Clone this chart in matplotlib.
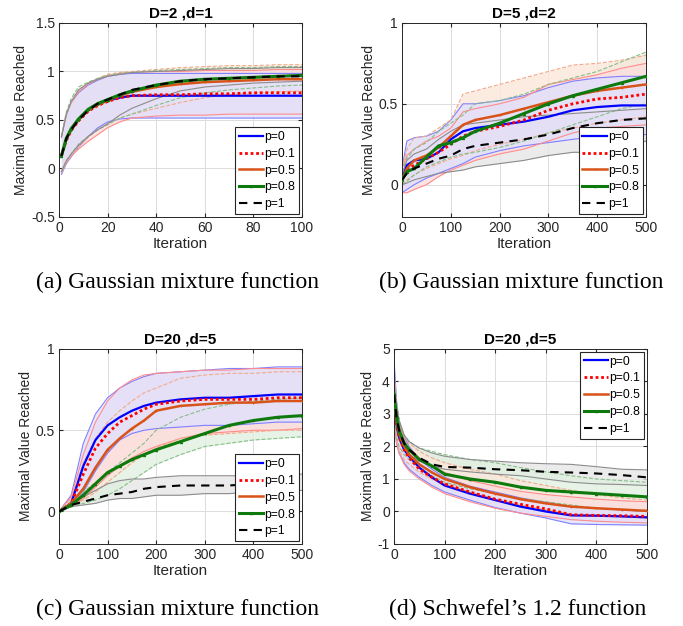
import matplotlib
matplotlib.use('Agg')
import matplotlib.pyplot as plt
from matplotlib.ticker import FormatStrFormatter

plt.rcParams['font.family'] = ['Liberation Sans', 'DejaVu Sans']

labels = ['p=0', 'p=0.1', 'p=0.5', 'p=0.8', 'p=1']

# ---- (a) D=2, d=1 ----
A_X = [1, 3, 5, 8, 12, 16, 20, 25, 30, 40, 50, 60, 70, 80, 90, 100]
A_P0 = [0.13, 0.30, 0.40, 0.50, 0.60, 0.66, 0.70, 0.73, 0.75, 0.75, 0.75, 0.75, 0.75, 0.75, 0.75, 0.75]
A_P01 = [0.13, 0.29, 0.39, 0.49, 0.59, 0.65, 0.69, 0.73, 0.75, 0.76, 0.76, 0.77, 0.77, 0.78, 0.78, 0.78]
A_P05 = [0.13, 0.30, 0.40, 0.50, 0.60, 0.66, 0.70, 0.75, 0.79, 0.84, 0.87, 0.89, 0.90, 0.91, 0.92, 0.92]
A_P08 = [0.13, 0.31, 0.41, 0.51, 0.61, 0.67, 0.71, 0.76, 0.80, 0.86, 0.90, 0.92, 0.93, 0.94, 0.95, 0.96]
A_P1 = [0.13, 0.31, 0.40, 0.50, 0.60, 0.67, 0.71, 0.76, 0.81, 0.86, 0.90, 0.92, 0.93, 0.94, 0.95, 0.95]
A_P0_LO = [-0.06, 0.05, 0.12, 0.22, 0.33, 0.42, 0.48, 0.51, 0.52, 0.52, 0.52, 0.52, 0.52, 0.52, 0.52, 0.52]
A_P0_HI = [0.33, 0.55, 0.68, 0.78, 0.86, 0.91, 0.95, 0.97, 0.98, 0.98, 0.98, 0.98, 0.98, 0.98, 0.98, 0.98]
A_P01_LO = [-0.04, 0.06, 0.13, 0.20, 0.28, 0.35, 0.42, 0.48, 0.52, 0.54, 0.55, 0.55, 0.56, 0.56, 0.56, 0.56]
A_P01_HI = [0.33, 0.56, 0.68, 0.79, 0.87, 0.92, 0.96, 0.98, 0.99, 1.00, 1.00, 1.01, 1.01, 1.01, 1.02, 1.02]
A_P05_LO = [-0.04, 0.06, 0.13, 0.22, 0.32, 0.40, 0.46, 0.52, 0.56, 0.62, 0.68, 0.73, 0.76, 0.78, 0.79, 0.80]
A_P05_HI = [0.33, 0.56, 0.69, 0.80, 0.88, 0.93, 0.97, 0.99, 1.00, 1.02, 1.04, 1.05, 1.06, 1.06, 1.07, 1.07]
A_P08_LO = [-0.03, 0.08, 0.15, 0.25, 0.33, 0.40, 0.45, 0.52, 0.56, 0.65, 0.73, 0.78, 0.81, 0.83, 0.85, 0.86]
A_P08_HI = [0.33, 0.58, 0.72, 0.84, 0.89, 0.93, 0.96, 0.98, 0.99, 1.01, 1.02, 1.03, 1.04, 1.04, 1.05, 1.05]
A_P1_LO = [-0.03, 0.08, 0.15, 0.24, 0.33, 0.40, 0.46, 0.55, 0.62, 0.72, 0.80, 0.84, 0.86, 0.88, 0.89, 0.90]
A_P1_HI = [0.32, 0.56, 0.69, 0.81, 0.88, 0.92, 0.95, 0.97, 0.99, 1.00, 1.01, 1.02, 1.03, 1.03, 1.04, 1.04]

# ---- (b) D=5, d=2 ----
B_X = [0, 10, 25, 50, 75, 100, 125, 150, 200, 250, 300, 350, 400, 450, 500]
B_P0 = [0.03, 0.12, 0.15, 0.16, 0.20, 0.28, 0.33, 0.35, 0.37, 0.39, 0.42, 0.46, 0.48, 0.49, 0.49]
B_P01 = [0.03, 0.09, 0.12, 0.16, 0.20, 0.25, 0.30, 0.33, 0.36, 0.40, 0.46, 0.50, 0.53, 0.54, 0.56]
B_P05 = [0.03, 0.10, 0.15, 0.18, 0.23, 0.30, 0.37, 0.40, 0.43, 0.47, 0.51, 0.55, 0.58, 0.60, 0.62]
B_P08 = [0.03, 0.08, 0.10, 0.17, 0.24, 0.26, 0.29, 0.33, 0.38, 0.44, 0.50, 0.55, 0.59, 0.63, 0.67]
B_P1 = [0.03, 0.07, 0.10, 0.13, 0.16, 0.18, 0.22, 0.24, 0.26, 0.28, 0.31, 0.35, 0.38, 0.40, 0.41]
B_P0_LO = [-0.05, -0.03, 0.00, 0.04, 0.07, 0.10, 0.13, 0.17, 0.21, 0.24, 0.26, 0.28, 0.30, 0.30, 0.31]
B_P0_HI = [0.10, 0.27, 0.29, 0.30, 0.33, 0.40, 0.50, 0.50, 0.52, 0.55, 0.60, 0.64, 0.66, 0.67, 0.67]
B_P01_LO = [-0.05, -0.05, -0.03, 0.00, 0.05, 0.09, 0.12, 0.15, 0.19, 0.22, 0.27, 0.32, 0.35, 0.36, 0.37]
B_P01_HI = [0.10, 0.18, 0.22, 0.27, 0.30, 0.35, 0.45, 0.47, 0.50, 0.54, 0.62, 0.65, 0.68, 0.72, 0.75]
B_P05_LO = [0.00, 0.03, 0.06, 0.10, 0.13, 0.16, 0.18, 0.21, 0.25, 0.28, 0.32, 0.35, 0.38, 0.40, 0.42]
B_P05_HI = [0.10, 0.22, 0.29, 0.30, 0.35, 0.40, 0.56, 0.58, 0.62, 0.66, 0.70, 0.74, 0.75, 0.77, 0.80]
B_P08_LO = [0.00, 0.02, 0.06, 0.11, 0.14, 0.17, 0.19, 0.20, 0.23, 0.27, 0.32, 0.37, 0.42, 0.47, 0.50]
B_P08_HI = [0.08, 0.16, 0.22, 0.26, 0.33, 0.38, 0.43, 0.50, 0.52, 0.56, 0.62, 0.66, 0.70, 0.76, 0.82]
B_P1_LO = [0.00, 0.01, 0.03, 0.05, 0.07, 0.08, 0.09, 0.11, 0.13, 0.15, 0.18, 0.20, 0.20, 0.22, 0.27]
B_P1_HI = [0.06, 0.15, 0.19, 0.22, 0.28, 0.33, 0.37, 0.38, 0.40, 0.42, 0.43, 0.44, 0.45, 0.46, 0.47]

# ---- (c) D=20, d=5 gaussian ----
C_X = [0, 25, 50, 75, 100, 125, 150, 175, 200, 250, 300, 350, 400, 450, 500]
C_P0 = [0.00, 0.05, 0.28, 0.44, 0.53, 0.58, 0.62, 0.65, 0.67, 0.69, 0.70, 0.70, 0.71, 0.72, 0.72]
C_P01 = [0.00, 0.05, 0.23, 0.39, 0.48, 0.55, 0.59, 0.63, 0.66, 0.68, 0.69, 0.69, 0.69, 0.70, 0.70]
C_P05 = [0.00, 0.05, 0.14, 0.27, 0.38, 0.45, 0.51, 0.56, 0.62, 0.65, 0.66, 0.67, 0.67, 0.68, 0.68]
C_P08 = [0.00, 0.04, 0.10, 0.17, 0.24, 0.28, 0.32, 0.35, 0.38, 0.43, 0.48, 0.53, 0.56, 0.58, 0.59]
C_P1 = [0.00, 0.04, 0.06, 0.08, 0.10, 0.11, 0.12, 0.14, 0.15, 0.16, 0.16, 0.16, 0.17, 0.17, 0.17]
C_P0_LO = [0.00, 0.03, 0.12, 0.25, 0.36, 0.44, 0.48, 0.50, 0.51, 0.52, 0.53, 0.53, 0.54, 0.55, 0.55]
C_P0_HI = [0.00, 0.10, 0.42, 0.60, 0.70, 0.76, 0.80, 0.83, 0.85, 0.86, 0.87, 0.88, 0.88, 0.89, 0.89]
C_P01_LO = [0.00, 0.03, 0.08, 0.15, 0.22, 0.28, 0.33, 0.37, 0.40, 0.45, 0.48, 0.49, 0.50, 0.50, 0.51]
C_P01_HI = [0.00, 0.09, 0.35, 0.55, 0.68, 0.76, 0.81, 0.84, 0.85, 0.86, 0.87, 0.87, 0.88, 0.88, 0.88]
C_P05_LO = [0.00, 0.03, 0.07, 0.12, 0.18, 0.24, 0.30, 0.35, 0.39, 0.45, 0.47, 0.48, 0.49, 0.50, 0.50]
C_P05_HI = [0.00, 0.08, 0.30, 0.45, 0.55, 0.62, 0.68, 0.73, 0.76, 0.82, 0.84, 0.85, 0.85, 0.86, 0.86]
C_P08_LO = [0.00, 0.03, 0.05, 0.07, 0.10, 0.14, 0.19, 0.24, 0.29, 0.35, 0.40, 0.42, 0.44, 0.45, 0.46]
C_P08_HI = [0.00, 0.06, 0.12, 0.18, 0.24, 0.30, 0.36, 0.42, 0.50, 0.58, 0.63, 0.66, 0.68, 0.69, 0.70]
C_P1_LO = [0.00, 0.03, 0.04, 0.05, 0.07, 0.08, 0.08, 0.09, 0.10, 0.10, 0.11, 0.11, 0.12, 0.12, 0.13]
C_P1_HI = [0.00, 0.05, 0.09, 0.13, 0.17, 0.19, 0.20, 0.20, 0.21, 0.22, 0.22, 0.22, 0.22, 0.23, 0.23]

# ---- (d) D=20, d=5 schwefel ----
D_X = [0, 5, 10, 20, 30, 50, 75, 100, 150, 200, 250, 300, 350, 400, 450, 500]
D_P0 = [3.6, 2.7, 2.3, 1.9, 1.7, 1.35, 1.05, 0.80, 0.55, 0.35, 0.15, 0.00, -0.12, -0.13, -0.15, -0.18]
D_P01 = [3.6, 2.7, 2.3, 1.9, 1.65, 1.30, 1.05, 0.85, 0.60, 0.38, 0.22, 0.08, -0.10, -0.12, -0.13, -0.15]
D_P05 = [3.6, 2.8, 2.4, 2.0, 1.75, 1.45, 1.20, 1.00, 0.75, 0.55, 0.38, 0.25, 0.15, 0.10, 0.06, 0.02]
D_P08 = [3.6, 2.9, 2.5, 2.1, 1.9, 1.60, 1.40, 1.15, 1.00, 0.90, 0.75, 0.65, 0.60, 0.55, 0.50, 0.45]
D_P1 = [3.6, 2.9, 2.5, 2.1, 1.9, 1.65, 1.45, 1.37, 1.35, 1.30, 1.27, 1.22, 1.20, 1.17, 1.12, 1.05]
D_P0_LO = [2.8, 2.1, 1.8, 1.5, 1.3, 1.05, 0.80, 0.60, 0.35, 0.12, -0.05, -0.20, -0.38, -0.40, -0.41, -0.42]
D_P0_HI = [4.7, 3.4, 2.8, 2.3, 2.0, 1.60, 1.30, 1.05, 0.78, 0.60, 0.42, 0.28, 0.15, 0.10, 0.05, 0.00]
D_P01_LO = [2.8, 2.1, 1.8, 1.45, 1.25, 1.00, 0.75, 0.55, 0.30, 0.10, -0.05, -0.15, -0.25, -0.30, -0.33, -0.35]
D_P01_HI = [4.3, 3.2, 2.7, 2.2, 1.95, 1.65, 1.40, 1.20, 0.95, 0.78, 0.62, 0.52, 0.45, 0.38, 0.33, 0.30]
D_P05_LO = [2.9, 2.2, 1.9, 1.6, 1.45, 1.20, 1.00, 0.85, 0.60, 0.40, 0.20, 0.05, -0.08, -0.13, -0.17, -0.20]
D_P05_HI = [4.3, 3.3, 2.8, 2.3, 2.1, 1.85, 1.65, 1.50, 1.30, 1.15, 0.95, 0.80, 0.65, 0.52, 0.42, 0.35]
D_P08_LO = [3.0, 2.3, 2.0, 1.75, 1.6, 1.35, 1.10, 0.90, 0.70, 0.55, 0.40, 0.30, 0.20, 0.10, 0.05, 0.00]
D_P08_HI = [4.0, 3.3, 2.8, 2.35, 2.15, 1.95, 1.85, 1.75, 1.60, 1.50, 1.35, 1.22, 1.10, 1.00, 0.95, 0.90]
D_P1_LO = [3.1, 2.5, 2.2, 1.9, 1.75, 1.55, 1.40, 1.30, 1.22, 1.15, 1.10, 1.00, 0.90, 0.85, 0.83, 0.80]
D_P1_HI = [4.0, 3.2, 2.8, 2.35, 2.15, 1.95, 1.80, 1.70, 1.60, 1.55, 1.50, 1.47, 1.45, 1.38, 1.30, 1.28]

# line styles per p value
mean_style = [dict(color='#0000FF', lw=1.6, ls='-'),
              dict(color='#FF0000', lw=2.0, ls=(0, (1, 1))),
              dict(color='#D95319', lw=1.8, ls='-', marker='+', ms=2.0, mew=0.6),
              dict(color='#0E7A0E', lw=2.2, ls='-', marker='^', ms=1.5),
              dict(color='#000000', lw=1.5, ls=(0, (4, 3)))]
# light tints for the spread bands; p=0 band ends up on top
band_fill = ['#E0E0FC', '#FCDEDE', '#FAE6DA', '#E0F0E0', '#E6E6E6']
band_edge = [dict(color='#8080FF', ls='-'), dict(color='#FF8C8C', ls='-'),
             dict(color='#F2A98A', ls='--'), dict(color='#86BF86', ls='--'),
             dict(color='#8C8C8C', ls='-')]


def draw_panel(rect, x, means, los, his, title, xlim, ylim, yticks, xticks, caption, leg_loc):
    ax = fig.add_axes(rect)
    for i in [4, 3, 2, 1, 0]:
        ax.fill_between(x, los[i], his[i], color=band_fill[i], alpha=0.8, lw=0, zorder=1.5)
    for i in range(5):
        ax.plot(x, los[i], lw=0.8, zorder=2, **band_edge[i])
        ax.plot(x, his[i], lw=0.8, zorder=2, **band_edge[i])
    for i in range(5):
        ax.plot(x, means[i], label=labels[i], zorder=3, **mean_style[i])
    ax.set_xlim(*xlim)
    ax.set_ylim(*ylim)
    ax.set_xticks(xticks)
    ax.set_yticks(yticks)
    ax.yaxis.set_major_formatter(FormatStrFormatter('%g'))
    ax.grid(True, color='#DCDCDC', lw=0.7, zorder=1)
    ax.set_axisbelow(True)
    ax.tick_params(direction='in', top=True, right=True, length=3, labelsize=10,
                   colors='#262626', pad=3)
    for s in ax.spines.values():
        s.set_color('#262626')
        s.set_linewidth(0.7)
    ax.set_title(title, fontsize=11, fontweight='bold', pad=4)
    ax.set_xlabel('Iteration', fontsize=11, color='#262626', labelpad=1)
    ax.set_ylabel('Maximal Value Reached', fontsize=10, color='#262626', labelpad=2)
    leg = ax.legend(loc=leg_loc, fontsize=8.7, frameon=True, fancybox=False,
                    edgecolor='#262626', framealpha=1, handlelength=2.0,
                    handletextpad=0.15, labelspacing=0.4, borderpad=0.3,
                    borderaxespad=0.25)
    leg.get_frame().set_linewidth(0.8)
    leg.set_zorder(5)
    pos = ax.get_position()
    fig.text(pos.x0 + pos.width / 2 - 0.004, pos.y0 - 0.105, caption, ha='center', va='center',
             fontsize=17, family='Liberation Serif')
    return ax


fig = plt.figure(figsize=(6.83, 6.26), dpi=100)

draw_panel([0.0864, 0.6534, 0.3558, 0.3099], A_X,
           [A_P0, A_P01, A_P05, A_P08, A_P1],
           [A_P0_LO, A_P01_LO, A_P05_LO, A_P08_LO, A_P1_LO],
           [A_P0_HI, A_P01_HI, A_P05_HI, A_P08_HI, A_P1_HI],
           'D=2 ,d=1', (0, 100), (-0.5, 1.5), [-0.5, 0, 0.5, 1, 1.5],
           [0, 20, 40, 60, 80, 100], '(a) Gaussian mixture function', 'lower right')

draw_panel([0.5886, 0.6534, 0.3572, 0.3099], B_X,
           [B_P0, B_P01, B_P05, B_P08, B_P1],
           [B_P0_LO, B_P01_LO, B_P05_LO, B_P08_LO, B_P1_LO],
           [B_P0_HI, B_P01_HI, B_P05_HI, B_P08_HI, B_P1_HI],
           'D=5 ,d=2', (0, 500), (-0.2, 1), [0, 0.5, 1],
           [0, 100, 200, 300, 400, 500], '(b) Gaussian mixture function', 'lower right')

draw_panel([0.0864, 0.131, 0.3558, 0.3115], C_X,
           [C_P0, C_P01, C_P05, C_P08, C_P1],
           [C_P0_LO, C_P01_LO, C_P05_LO, C_P08_LO, C_P1_LO],
           [C_P0_HI, C_P01_HI, C_P05_HI, C_P08_HI, C_P1_HI],
           'D=20 ,d=5', (0, 500), (-0.2, 1), [0, 0.5, 1],
           [0, 100, 200, 300, 400, 500], '(c) Gaussian mixture function', 'lower right')

draw_panel([0.5769, 0.131, 0.3704, 0.3115], D_X,
           [D_P0, D_P01, D_P05, D_P08, D_P1],
           [D_P0_LO, D_P01_LO, D_P05_LO, D_P08_LO, D_P1_LO],
           [D_P0_HI, D_P01_HI, D_P05_HI, D_P08_HI, D_P1_HI],
           'D=20 ,d=5', (0, 500), (-1, 5), [-1, 0, 1, 2, 3, 4, 5],
           [0, 100, 200, 300, 400, 500], "(d) Schwefel\u2019s 1.2 function", 'upper right')

fig.savefig('out.png', dpi=100)
